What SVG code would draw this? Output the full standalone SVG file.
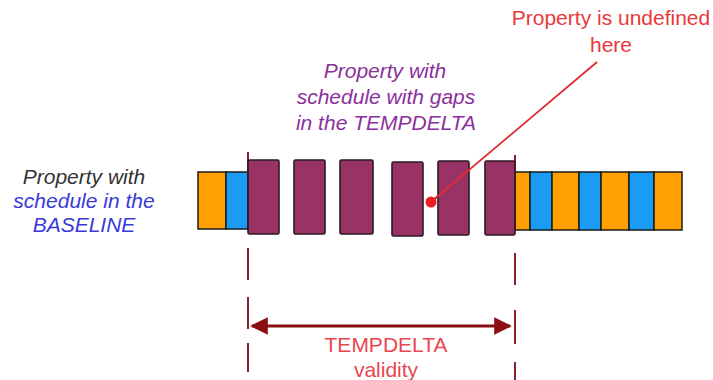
<svg xmlns="http://www.w3.org/2000/svg" width="713" height="380" viewBox="0 0 713 380">
<defs>
<style>
.t{font-family:"Liberation Sans",Arial,sans-serif;font-size:21px;text-anchor:middle}
.i{font-style:italic}
.or{fill:#ffa000;stroke:#1a1a1a;stroke-width:1.5}
.bl{fill:#1a9cf5;stroke:#1a1a1a;stroke-width:1.5}
.pu{fill:#993366;stroke:#2a1a22;stroke-width:1.6}
.dash{stroke:#8b2030;stroke-width:2;fill:none}
</style>
<marker id="ah" viewBox="0 0 10 10" refX="9" refY="5" markerWidth="6" markerHeight="5.5" orient="auto-start-reverse" markerUnits="strokeWidth">
<path d="M0,0 L10,5 L0,10 z" fill="#8b0f12"/>
</marker>
</defs>
<rect width="713" height="380" fill="#ffffff"/>

<g id="baseline-label">
<text class="t i" x="84" y="184" fill="#333333">Property with</text>
<text class="t i" x="84" y="208" fill="#3a3ad8">schedule in the</text>
<text class="t i" x="84" y="232" fill="#3a3ad8">BASELINE</text>
</g>

<g id="tempdelta-label">
<text class="t i" x="385" y="78" fill="#8b2f9c">Property with</text>
<text class="t i" x="386" y="104" fill="#8b2f9c">schedule with gaps</text>
<text class="t i" x="386" y="130" fill="#8b2f9c">in the TEMPDELTA</text>
</g>

<g id="undefined-label">
<text class="t" x="611" y="25" fill="#e8383c">Property is undefined</text>
<text class="t" x="611" y="52" fill="#e8383c">here</text>
</g>

<g id="connectors">
<path class="dash" d="M248,152 V184 M248,248 V280 M248,297 V329 M248,343 V372"/>
<path class="dash" d="M515,155 V188 M515,253 V285 M515,310 V344 M515,362 V380"/>
<line x1="252" y1="326" x2="510" y2="326" stroke="#8b0f12" stroke-width="3.2" marker-start="url(#ah)" marker-end="url(#ah)"/>
<line x1="431" y1="202" x2="597" y2="62" stroke="#e02a30" stroke-width="1.8"/>
</g>

<g id="baseline-left">
<rect class="or" x="198" y="172" width="28" height="57"/>
<rect class="bl" x="226" y="172" width="22" height="57"/>
</g>

<g id="baseline-right">
<rect class="or" x="515" y="172" width="15" height="58"/>
<rect class="bl" x="530" y="172" width="22" height="58"/>
<rect class="or" x="552" y="172" width="27" height="58"/>
<rect class="bl" x="579" y="172" width="22" height="58"/>
<rect class="or" x="601" y="172" width="28" height="58"/>
<rect class="bl" x="629" y="172" width="25" height="58"/>
<rect class="or" x="654" y="172" width="28" height="58"/>
</g>

<g id="tempdelta-blocks">
<rect class="pu" x="248" y="160" width="31" height="74" rx="1.5"/>
<rect class="pu" x="294" y="160" width="31" height="74" rx="1.5"/>
<rect class="pu" x="340" y="160" width="33" height="74" rx="1.5"/>
<rect class="pu" x="392" y="162" width="31" height="74" rx="1.5"/>
<rect class="pu" x="438" y="161" width="31" height="74" rx="1.5"/>
<rect class="pu" x="485" y="161" width="30" height="74" rx="1.5"/>
</g>

<g id="undefined-point">
<line x1="431" y1="202" x2="470" y2="169" stroke="#e02a30" stroke-width="1.8"/>
<circle cx="431" cy="202" r="5.5" fill="#ee1c24"/>
</g>

<g id="validity-label">
<text class="t" x="386" y="352" fill="#e8474f">TEMPDELTA</text>
<text class="t" x="386" y="377" fill="#e8474f">validity</text>
</g>
</svg>
